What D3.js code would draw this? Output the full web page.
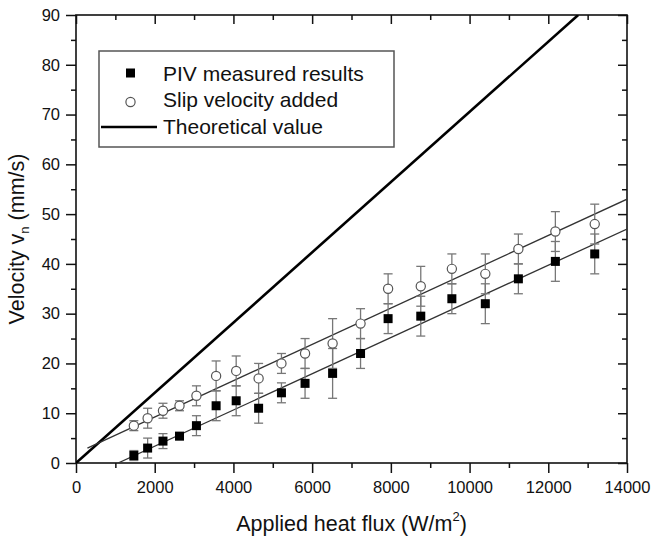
<!DOCTYPE html>
<html>
<head>
<meta charset="utf-8">
<script src="https://cdn.jsdelivr.net/npm/d3@7"></script>
<style>
  body { margin: 0; background: #fff; }
  svg text { font-family: "Liberation Sans", Arial, sans-serif; fill: #111; }
</style>
</head>
<body>
<div id="chart"></div>
<script>
// heat flux (W/m2) of each measurement
var heatFlux = [1470, 1820, 2210, 2630, 3060, 3560, 4070, 4640, 5220, 5820, 6520, 7230, 7930, 8760, 9550, 10400, 11240, 12180, 13180];
// PIV measured velocity and its error
var pivVel = [1.5, 3, 4.4, 5.4, 7.5, 11.5, 12.5, 11, 14.1, 16, 18, 22, 29, 29.5, 33, 32, 37, 40.5, 42];
var pivErr = [1, 2, 1.5, 0.7, 2, 3, 3, 3, 2, 3, 5, 3, 3, 4, 3, 4, 3, 4, 4];
// slip velocity added and its error
var slipVel = [7.5, 9, 10.5, 11.5, 13.5, 17.5, 18.5, 17, 20, 22, 24, 28, 35, 35.5, 39, 38, 43, 46.5, 48];
var slipErr = [1, 2, 1.5, 1, 2, 3, 3, 3, 2, 3, 5, 3, 3, 4, 3, 4, 3, 4, 4];
// straight lines: linear fits and theory (end points)
var fitPiv = [[1070, 0], [14000, 47]];
var fitSlip = [[290, 3], [14000, 53]];
var theory = [[0, 0], [12760, 90]];

var xTicks = [0, 2000, 4000, 6000, 8000, 10000, 12000, 14000];
var yTicks = [0, 10, 20, 30, 40, 50, 60, 70, 80, 90];

var svgWidth = 651, svgHeight = 540;
var margin = { top: 15, right: 24, bottom: 77, left: 76 };
var chartWidth = svgWidth - margin.left - margin.right;
var chartHeight = svgHeight - margin.top - margin.bottom;

var svg = d3.select("#chart").append("svg")
    .attr("width", svgWidth)
    .attr("height", svgHeight);

var g = svg.append("g")
    .attr("transform", `translate(${margin.left}, ${margin.top})`);

var xScale = d3.scaleLinear().domain([0, 14000]).range([0, chartWidth]);
var yScale = d3.scaleLinear().domain([0, 90]).range([chartHeight, 0]);

svg.append("defs").append("clipPath").attr("id", "clip")
    .append("rect").attr("width", chartWidth).attr("height", chartHeight);

var xMinor = d3.range(1000, 14000, 2000);
var yMinor = d3.range(5, 90, 10);

/// axes: major ticks out on left/bottom, in on top/right
function styleAxis(sel) {
    sel.select(".domain").remove();
    sel.selectAll("line").attr("stroke", "#111").attr("stroke-width", 1.5);
    sel.selectAll("text").attr("font-size", 16.5).style("font-family", "'Liberation Sans', Arial, sans-serif").attr("fill", "#111");
}

g.append("g").attr("transform", `translate(0, ${chartHeight})`)
    .call(d3.axisBottom(xScale).tickValues(xTicks).tickSize(10).tickPadding(8).tickFormat(d3.format("d")))
    .call(styleAxis);
g.append("g").attr("transform", `translate(0, ${chartHeight})`)
    .call(d3.axisBottom(xScale).tickValues(xMinor).tickSize(5).tickFormat(""))
    .call(styleAxis);
g.append("g")
    .call(d3.axisLeft(yScale).tickValues(yTicks).tickSize(10).tickPadding(6))
    .call(styleAxis);
g.append("g")
    .call(d3.axisLeft(yScale).tickValues(yMinor).tickSize(5).tickFormat(""))
    .call(styleAxis);
g.append("g")
    .call(d3.axisTop(xScale).tickValues(xTicks).tickSize(-9).tickFormat(""))
    .call(styleAxis);
g.append("g")
    .call(d3.axisTop(xScale).tickValues(xMinor).tickSize(-5).tickFormat(""))
    .call(styleAxis);
g.append("g").attr("transform", `translate(${chartWidth}, 0)`)
    .call(d3.axisRight(yScale).tickValues(yTicks).tickSize(-9).tickFormat(""))
    .call(styleAxis);
g.append("g").attr("transform", `translate(${chartWidth}, 0)`)
    .call(d3.axisRight(yScale).tickValues(yMinor).tickSize(-5).tickFormat(""))
    .call(styleAxis);

g.append("rect")
    .attr("width", chartWidth).attr("height", chartHeight)
    .attr("fill", "none").attr("stroke", "#111").attr("stroke-width", 1.6);

/// lines
var line = d3.line().x(d => xScale(d[0])).y(d => yScale(d[1]));
var lines = g.append("g").attr("clip-path", "url(#clip)");
lines.append("path").datum(theory).attr("d", line)
    .attr("fill", "none").attr("stroke", "#000").attr("stroke-width", 2.6);
lines.append("path").datum(fitPiv).attr("d", line)
    .attr("fill", "none").attr("stroke", "#333").attr("stroke-width", 1.3);
lines.append("path").datum(fitSlip).attr("d", line)
    .attr("fill", "none").attr("stroke", "#333").attr("stroke-width", 1.3);

/// error bars
function errorBars(vals, errs) {
    var eb = g.append("g").attr("stroke", "#777").attr("stroke-width", 1.3);
    heatFlux.forEach((x, i) => {
        var cx = xScale(x), y1 = yScale(vals[i] + errs[i]), y2 = yScale(vals[i] - errs[i]);
        eb.append("line").attr("x1", cx).attr("x2", cx).attr("y1", y1).attr("y2", y2);
        eb.append("line").attr("x1", cx - 4.5).attr("x2", cx + 4.5).attr("y1", y1).attr("y2", y1);
        eb.append("line").attr("x1", cx - 4.5).attr("x2", cx + 4.5).attr("y1", y2).attr("y2", y2);
    });
}
errorBars(slipVel, slipErr);
errorBars(pivVel, pivErr);

/// markers
g.selectAll(".slip").data(slipVel).enter().append("circle")
    .attr("class", "slip")
    .attr("cx", (d, i) => xScale(heatFlux[i]))
    .attr("cy", d => yScale(d))
    .attr("r", 4.6)
    .attr("fill", "#fff").attr("stroke", "#555").attr("stroke-width", 1.2);

g.selectAll(".piv").data(pivVel).enter().append("rect")
    .attr("class", "piv")
    .attr("x", (d, i) => xScale(heatFlux[i]) - 4.5)
    .attr("y", d => yScale(d) - 4.5)
    .attr("width", 9).attr("height", 9)
    .attr("fill", "#000");

/// legend
var legend = svg.append("g");
legend.append("rect")
    .attr("x", 99).attr("y", 51).attr("width", 295).attr("height", 96)
    .attr("fill", "#fff").attr("stroke", "#555").attr("stroke-width", 1.5);
legend.append("rect").attr("x", 126).attr("y", 68.5).attr("width", 9).attr("height", 9).attr("fill", "#000");
legend.append("circle").attr("cx", 130.5).attr("cy", 102).attr("r", 4.6)
    .attr("fill", "#fff").attr("stroke", "#555").attr("stroke-width", 1.2);
legend.append("line").attr("x1", 101).attr("x2", 157).attr("y1", 127).attr("y2", 127)
    .attr("stroke", "#000").attr("stroke-width", 2.6);
var legendText = ["PIV measured results", "Slip velocity added", "Theoretical value"];
legend.selectAll("text.lg").data(legendText).enter().append("text")
    .attr("class", "lg")
    .attr("x", 163)
    .attr("y", (d, i) => 80.5 + i * 26.5)
    .attr("font-size", 21)
    .text(d => d);

/// axis titles
var xTitle = svg.append("text")
    .attr("x", margin.left + chartWidth / 2)
    .attr("y", 531)
    .attr("text-anchor", "middle")
    .attr("font-size", 21.5);
xTitle.append("tspan").text("Applied heat flux (W/m");
xTitle.append("tspan").attr("font-size", 13).attr("dy", -10).text("2");
xTitle.append("tspan").attr("dy", 10).text(")");

var yTitle = svg.append("text")
    .attr("transform", `translate(24, ${margin.top + chartHeight / 2}) rotate(-90)`)
    .attr("text-anchor", "middle")
    .attr("font-size", 21.5);
yTitle.append("tspan").text("Velocity v");
yTitle.append("tspan").attr("font-size", 13).attr("dy", 5).text("n");
yTitle.append("tspan").attr("dy", -5).text(" (mm/s)");
</script>
</body>
</html>
